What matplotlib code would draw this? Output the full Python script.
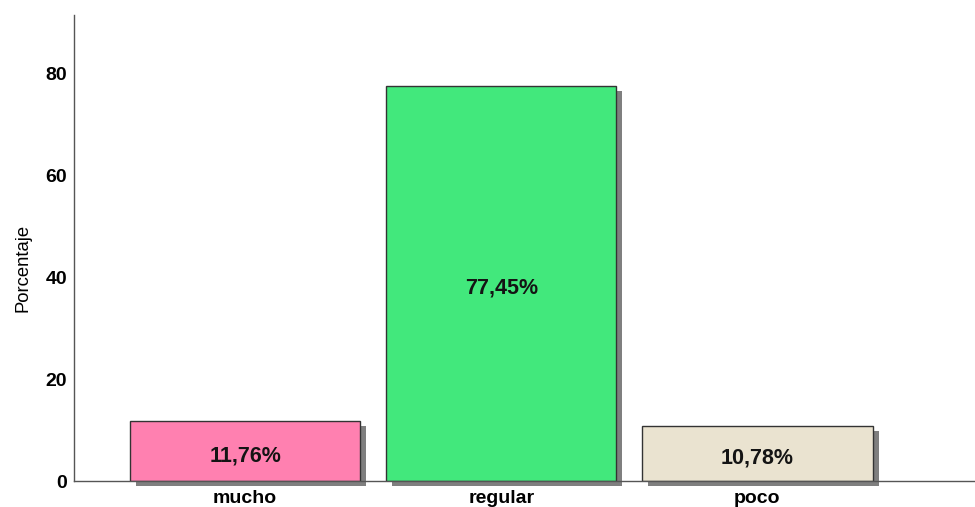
import matplotlib
matplotlib.use("Agg")
import matplotlib.pyplot as plt
import matplotlib.transforms as mtransforms

categories = ["mucho", "regular", "poco"]
values = [11.76, 77.45, 10.78]
labels = ["11,76%", "77,45%", "10,78%"]
colors = ["#FF80B0", "#42E87C", "#EAE3D0"]
yticks = [0, 20, 40, 60, 80]

plt.rcParams['font.family'] = ['Liberation Sans', 'DejaVu Sans']

fig = plt.figure(figsize=(9.75, 5.07), dpi=100)
W, H = 975, 507
ax = fig.add_axes([74 / W, 26 / H, (W - 74) / W, (481 - 15) / H])

x = list(range(len(categories)))
shadow_tr = ax.transData + mtransforms.ScaledTranslation(6 / 100, -5 / 100, fig.dpi_scale_trans)
sh = ax.bar(x, values, width=0.9, color="#7F7F7F", edgecolor="none", zorder=1)
for p in sh:
    p.set_transform(shadow_tr)
    p.set_clip_on(False)
ax.bar(x, values, width=0.9, color=colors, edgecolor="#333333", linewidth=1.0, zorder=2)

for xi, v, lab in zip(x, values, labels):
    ax.annotate(lab, (xi, v / 2), xytext=(0, -3.5), textcoords="offset points",
                ha="center", va="center", fontsize=15.5, fontweight="bold",
                color="#141414", zorder=3)

ax.set_xlim(-0.668, 2.85)
ax.set_ylim(0, 91.4)
ax.set_yticks(yticks)
ax.set_yticklabels([str(t) for t in yticks], fontsize=14, fontweight="bold")
ax.set_xticks(x)
ax.set_xticklabels(categories, fontsize=14, fontweight="bold")
ax.tick_params(axis="y", length=0, pad=5)
ax.tick_params(axis="x", length=0, pad=6.5)
for s in ["top", "right"]:
    ax.spines[s].set_visible(False)
for s in ["left", "bottom"]:
    ax.spines[s].set_color("#555555")
    ax.spines[s].set_linewidth(1.0)
    ax.spines[s].set_zorder(4)
ax.set_ylabel("Porcentaje", fontsize=13.3)
ax.yaxis.set_label_coords(-0.047, 0.457)

fig.savefig("out.png", dpi=100)
